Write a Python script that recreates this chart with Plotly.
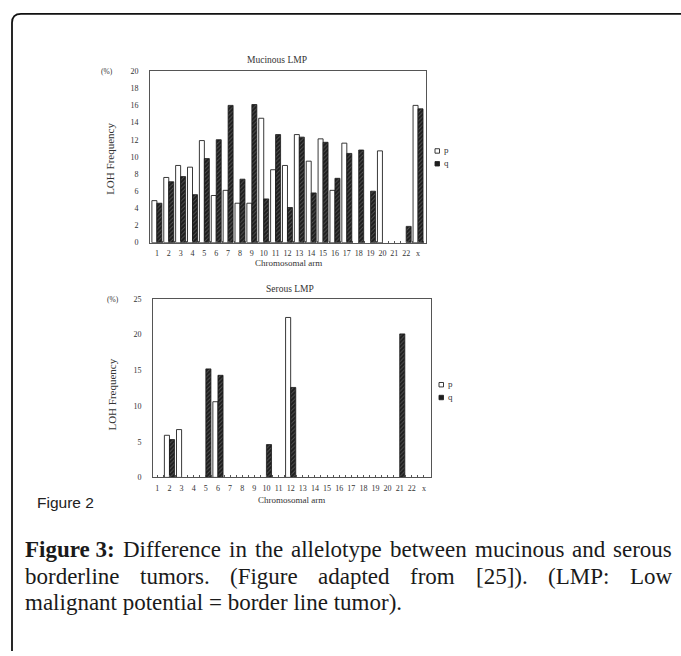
import plotly.graph_objects as go

# ---------------- data ----------------
categories = [str(i) for i in range(1, 23)] + ["x"]

mucinous_p = [4.9, 7.6, 9.0, 8.8, 11.9, 5.5, 6.1, 4.6, 4.6, 14.5, 8.5, 9.0,
              12.6, 9.5, 12.1, 6.1, 11.6, None, None, 10.7, None, None, 16.0]
mucinous_q = [4.6, 7.1, 7.7, 5.6, 9.8, 12.0, 16.0, 7.4, 16.1, 5.1, 12.6, 4.1,
              12.3, 5.8, 11.7, 7.5, 10.4, 10.8, 6.0, None, None, 1.9, 15.6]

serous_p = [None, 5.9, 6.7, None, None, 10.6, None, None, None, None, None, 22.4,
            None, None, None, None, None, None, None, None, None, None, None]
serous_q = [None, 5.3, None, None, 15.2, 14.3, None, None, None, 4.6, None, 12.6,
            None, None, None, None, None, None, None, None, 20.1, None, None]

mucinous_yticks = list(range(0, 21, 2))
serous_yticks = list(range(0, 26, 5))

# ---------------- layout helpers ----------------
W, H = 681, 656


def px(x):
    return x / W


def py(y):
    return 1 - y / H


xpos = list(range(1, len(categories) + 1))

SERIF = "Liberation Serif, Times New Roman, serif"
TXT = "#333333"
AX = "#555555"

white_style = dict(color="white", line=dict(color="#222222", width=0.9))
dark_style = dict(color="#1e1e1e", line=dict(color="#1a1a1a", width=0.8),
                  pattern=dict(shape="/", bgcolor="#1e1e1e", fgcolor="#8a8a8a",
                               size=3, solidity=0.3))

fig = go.Figure()
fig.add_trace(go.Bar(x=xpos, y=mucinous_p, name="p", marker=white_style,
                     xaxis="x", yaxis="y"))
fig.add_trace(go.Bar(x=xpos, y=mucinous_q, name="q", marker=dark_style,
                     xaxis="x", yaxis="y"))
fig.add_trace(go.Bar(x=xpos, y=serous_p, name="p", marker=white_style,
                     xaxis="x2", yaxis="y2"))
fig.add_trace(go.Bar(x=xpos, y=serous_q, name="q", marker=dark_style,
                     xaxis="x2", yaxis="y2"))


def xaxis(domain, rng, anchor):
    return dict(domain=domain, range=rng, anchor=anchor,
                tickmode="array", tickvals=xpos, ticktext=categories,
                ticks="inside", ticklen=2, tickwidth=1, tickcolor=AX,
                minor=dict(ticks="inside", ticklen=2, dtick=0.5, tick0=0.5,
                           tickcolor=AX, tickwidth=1),
                showline=True, linecolor=AX, linewidth=1, mirror=True,
                showgrid=False, zeroline=False, fixedrange=True,
                tickfont=dict(family=SERIF, size=8, color=TXT),
                ticklabelstandoff=3)


def yaxis(domain, rng, ticks, anchor):
    return dict(domain=domain, range=rng, anchor=anchor,
                tickmode="array", tickvals=ticks, ticktext=[str(t) for t in ticks],
                ticks="", showline=True, linecolor=AX, linewidth=1, mirror=True,
                showgrid=False, zeroline=False, fixedrange=True,
                tickfont=dict(family=SERIF, size=8, color=TXT),
                ticklabelstandoff=9)


fig.update_layout(
    width=W, height=H,
    margin=dict(l=0, r=0, t=0, b=0),
    paper_bgcolor="white", plot_bgcolor="white",
    showlegend=False,
    barmode="group", bargap=0.16, bargroupgap=0.0,
    xaxis=xaxis([px(150), px(426)], [0.42, 23.67], "y"),
    yaxis=yaxis([py(242), py(68)], [0, 20], mucinous_yticks, "x"),
    xaxis2=xaxis([px(153), px(431)], [0.64, 23.58], "y2"),
    yaxis2=yaxis([py(480), py(299)], [0, 25], serous_yticks, "x2"),
)

ann = []


def text(x, y, s, size, family=SERIF, color=TXT, xanchor="center", angle=0):
    ann.append(dict(x=px(x), y=py(y), xref="paper", yref="paper", text=s,
                    showarrow=False, xanchor=xanchor, yanchor="middle",
                    textangle=angle, font=dict(family=family, size=size, color=color)))


# chart texts
text(277, 57, "Mucinous LMP", 9.5)
text(107, 68, "(%)", 7.5)
text(110, 157, "LOH Frequency", 11, angle=-90)
text(288, 263, "Chromosomal arm", 9)
text(290, 289, "Serous LMP", 9.5)
text(113, 300, "(%)", 7.5)
text(112, 396, "LOH Frequency", 11, angle=-90)
text(291, 503, "Chromosomal arm", 9)
text(35, 505, "Figure 2", 15.5, family="Liberation Sans, Arial, sans-serif",
     color="#222222", xanchor="left")

# legends (p / q keys)
shapes = []


def key(x, y, dark):
    shapes.append(dict(type="rect", xref="paper", yref="paper",
                       x0=px(x), x1=px(x + 4.5), y0=py(y + 2.25), y1=py(y - 2.25),
                       line=dict(color="#222222", width=0.9),
                       fillcolor="#1e1e1e" if dark else "white"))


key(435, 149, False)
key(435, 162, True)
text(442, 148, "p", 9, xanchor="left")
text(442, 161, "q", 9, xanchor="left")
key(439, 386, False)
key(439, 399, True)
text(446, 385, "p", 9, xanchor="left")
text(446, 398, "q", 9, xanchor="left")

# ---------------- caption (justified) ----------------
REG = {' ': 250, '(': 333, ')': 333, '.': 250, ':': 278, '[': 333, ']': 333,
       '=': 564, 'D': 722, 'F': 556, 'L': 611, 'M': 889, 'P': 556,
       'a': 444, 'b': 500, 'c': 444, 'd': 500, 'e': 444, 'f': 333, 'g': 500,
       'h': 500, 'i': 278, 'l': 278, 'm': 778, 'n': 500, 'o': 500, 'p': 500,
       'r': 333, 's': 389, 't': 278, 'u': 500, 'w': 722, 'y': 500}
BOLD = {' ': 250, 'F': 611, 'i': 278, 'g': 500, 'u': 556, 'r': 444, 'e': 444,
        ':': 333}


def width(word, size, bold=False):
    table = BOLD if bold else REG
    return sum(table.get(c, 500) for c in word) / 1000 * size


CAP = 23
CX0, CX1 = 23, 670


def justified(words, y):
    total = sum(width(w, CAP, b) for w, b in words)
    gap = (CX1 - CX0 - total) / (len(words) - 1)
    x = CX0
    for w, b in words:
        s = "<b>%s</b>" % w if b else w
        text(x, y, s, CAP, color="#1a1a1a", xanchor="left")
        x += width(w, CAP, b) + gap


line1 = [("Figure 3:", True)] + [(w, False) for w in
                                 "Difference in the allelotype between mucinous and serous".split()]
line2 = [(w, False) for w in
         "borderline tumors. (Figure adapted from [25]). (LMP: Low".split()]
justified(line1, 553)
justified(line2, 580)
text(CX0, 607, "malignant potential = border line tumor).", CAP, color="#1a1a1a",
     xanchor="left")

# page frame (left + top, rounded corner)
r = 9
shapes.append(dict(type="path", xref="paper", yref="paper",
                   path="M %f,%f L %f,%f Q %f,%f %f,%f L %f,%f" % (
                       px(12), py(656), px(12), py(10 + r), px(12), py(10),
                       px(12 + r), py(10), px(681), py(10)),
                   line=dict(color="#111111", width=1.8)))

fig.update_layout(annotations=ann, shapes=shapes)
fig.write_html(
    "out.html",
    config={"displayModeBar": False, "staticPlot": True},
    post_script="document.body.style.margin='0';document.body.style.overflow='hidden';"
                "window.dispatchEvent(new Event('resize'));")
